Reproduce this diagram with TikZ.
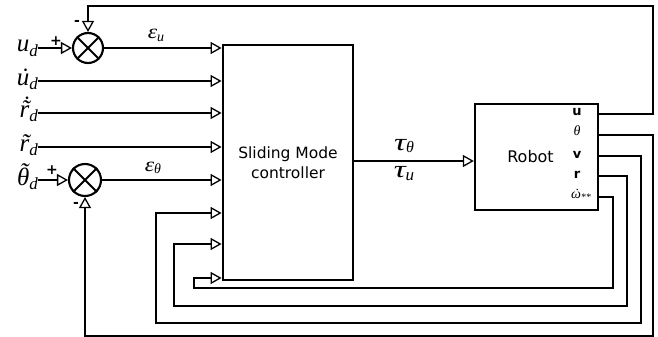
\documentclass[tikz,border=0pt]{standalone}
\usepackage{fontspec}
\usepackage{graphicx}
\newfontfamily\dv{DejaVu Sans}
\newfontfamily\ls{Liberation Serif}
\usetikzlibrary{arrows.meta}
\newcommand\dn[3]{\raisebox{-#2}{\fontsize{#1}{#1}\selectfont #3}}
\newcommand\ac[3]{\ooalign{#1\cr\hidewidth\kern#3\smash{#2}\hidewidth\cr}}
\newcommand\adot{\symbol{"02D9}}
\newcommand\atil{\symbol{"02DC}}
\newcommand\wtau{\scalebox{1.45}[1.05]{τ}}
\newcommand\weps{\scalebox{1.25}[1.05]{ε}}
\begin{document}
\begin{tikzpicture}[x=1pt,y=-1pt,
  conn/.style={line width=1.3pt},
  arr/.style={conn,-{Triangle[open,length=11pt,width=12pt,line width=1.3pt]}},
  block/.style={draw,line width=2.8pt,inner sep=0pt},
  sumnode/.style={draw,circle,line width=2.1pt,minimum size=30pt,inner sep=0pt},
  biglab/.style={font=\ls\itshape\fontsize{25}{27}\selectfont,inner sep=0pt,anchor=base east},
  elab/.style={font=\ls\itshape\fontsize{19}{21}\selectfont,inner sep=0pt,anchor=base},
  taulab/.style={font=\ls\itshape\fontsize{23}{25}\selectfont,inner sep=0pt,anchor=base},
  sign/.style={font=\dv\bfseries\fontsize{14}{14}\selectfont,inner sep=0pt},
  outlab/.style={font=\dv\bfseries\fontsize{13}{13}\selectfont,inner sep=0pt},
  outmath/.style={font=\ls\itshape\fontsize{14}{14}\selectfont,inner sep=0pt}]
\useasboundingbox (0,0) rectangle (658,337);
% blocks
\node[block,minimum width=130pt,minimum height=235pt,align=center,font=\dv\fontsize{15.5}{20}\selectfont] (smc) at (288,162.5) {Sliding Mode\\controller};
\node[block,line width=2.3pt,minimum width=123pt,minimum height=106pt,font=\dv\fontsize{16}{18}\selectfont] (robot) at (536.5,157) {\hspace{-12pt}Robot};
% sums
\node[sumnode] (s1) at (88,48) {};
\draw[line width=2pt] (s1.north east)--(s1.south west) (s1.north west)--(s1.south east);
\node[sumnode,minimum size=32pt] (s2) at (85,180) {};
\draw[line width=2pt] (s2.north east)--(s2.south west) (s2.north west)--(s2.south east);
% input labels
\node[biglab] (ud) at (38,52) {u\dn{17}{4.5pt}{d}};
\node[biglab] (udd) at (38,85) {\ac{u}{\adot}{2pt}\dn{17}{4.5pt}{d}};
\node[biglab] (rdd) at (38,117) {\ac{r}{\ac{\atil}{\raisebox{3.5pt}{\adot}}{0pt}}{2pt}\dn{17}{4.5pt}{d}};
\node[biglab] (rt) at (38,151) {\ac{r}{\atil}{2pt}\dn{17}{4.5pt}{d}};
\node[biglab] (tht) at (38,185) {\ac{θ}{\raisebox{5pt}{\atil}}{2pt}\dn{17}{4.5pt}{d}};
\node[sign] (p1) at (56,41) {+};
\node[sign] (p2) at (52,170) {+};
\node[sign] (m1) at (77,23) {-};
\node[sign] (m2) at (76,205) {-};
\node[elab] (eu) at (156,39) {\weps\dn{14}{2pt}{u}};
\node[elab] (eth) at (153,171) {\weps\dn{14}{2pt}{θ}};
\node[taulab] (tth) at (404,150) {\wtau\dn{16}{2pt}{θ}};
\node[taulab] (tu) at (404,177) {\wtau\dn{17}{3pt}{u}};
% robot output labels
\node[outlab] (lu) at (577,112) {u};
\node[outmath] (lth) at (577,131) {θ};
\node[outlab] (lv) at (577,155) {v};
\node[outlab] (lr) at (577,175) {r};
\node[outmath] (lw) at (581,196) {\ac{ω}{\adot}{1pt}\dn{10}{2pt}{**}};
% ports
\coordinate (in1) at (smc.west |- 0,48);
\coordinate (in2) at (smc.west |- 0,81);
\coordinate (in3) at (smc.west |- 0,113);
\coordinate (in4) at (smc.west |- 0,147);
\coordinate (in5) at (smc.west |- 0,180);
\coordinate (in6) at (smc.west |- 0,213);
\coordinate (in7) at (smc.west |- 0,244);
\coordinate (in8) at (smc.west |- 0,278);
\coordinate (ou) at (robot.east |- 0,114);
\coordinate (oth) at (robot.east |- 0,135);
\coordinate (ov) at (robot.east |- 0,156);
\coordinate (or) at (robot.east |- 0,176);
\coordinate (ow) at (robot.east |- 0,197);
% input connectors
\draw[arr] (ud.east |- s1.west) -- (s1.west);
\draw[arr] (udd.east |- in2) -- (in2);
\draw[arr] (rdd.east |- in3) -- (in3);
\draw[arr] (rt.east |- in4) -- (in4);
\draw[arr] (tht.east |- s2.west) -- (s2.west);
\draw[arr] (s1.east) -- (in1);
\draw[arr] (s2.east) -- (in5);
\draw[arr] (smc.east |- 0,161) -- (robot.west |- 0,161);
% feedback
\draw[arr] (ou) -- (653,114) -- (653,6) -- (s1.north |- 0,6) -- (s1.north);
\draw[arr] (oth) -- (653,135) -- (653,336) -- (s2.south |- 0,336) -- (s2.south);
\draw[arr] (ov) -- (641,156) -- (641,323) -- (156,323) -- (156,213) -- (in6);
\draw[arr] (or) -- (627,176) -- (627,306) -- (174,306) -- (174,244) -- (in7);
\draw[arr] (ow) -- (613,197) -- (613,288) -- (194,288) -- (194,278) -- (in8);
\end{tikzpicture}
\end{document}
